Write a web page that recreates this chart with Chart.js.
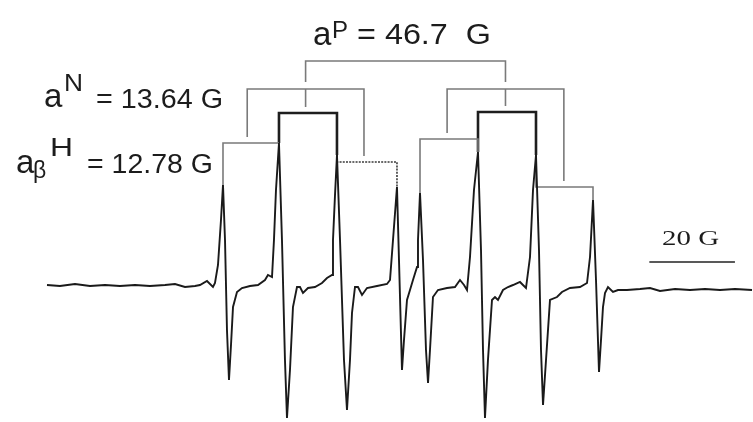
<!DOCTYPE html>
<html>
<head>
<meta charset="utf-8">
<script src="https://cdn.jsdelivr.net/npm/chart.js@4.4.1/dist/chart.umd.min.js"></script>
<style>
  html, body { margin: 0; padding: 0; background: #ffffff; }
  #wrap { position: relative; width: 753px; height: 422px; }
</style>
</head>
<body>
<div id="wrap"><canvas id="c"></canvas></div>
<script>
// ---- data ----
// magnetic field offset (G)
const field = [
  0.47, 3.50, 7.01, 10.51, 14.02, 17.52, 21.03, 24.53, 28.04, 30.37, 32.71, 35.05, 36.21, 37.85, 39.25,
  39.72, 40.42, 41.12, 41.59, 42.06, 42.52, 42.99, 43.46, 43.93, 44.86, 46.03, 47.90, 49.77, 51.40, 52.10, 53.04,
  53.50, 53.97, 54.67, 55.37, 56.07, 56.54, 57.24, 57.94, 58.88, 59.58, 60.28, 61.45, 63.08, 64.72, 65.89, 67.06,
  67.29, 67.76, 68.22, 68.93, 69.86, 70.56, 71.26, 71.73, 72.43, 73.13, 74.07, 75.23, 77.57, 79.91, 80.61,
  81.31, 82.24, 82.71, 83.41, 83.88, 84.58, 85.28, 85.98, 86.92,
  87.15, 87.62, 88.32, 89.02, 89.49, 89.95, 90.65, 91.82, 93.93, 95.79, 96.96, 97.90, 98.60,
  99.30, 100.23, 101.17, 101.87, 102.34, 102.80, 103.50, 104.44, 105.14, 105.84, 107.01, 108.18, 109.35, 110.98, 111.68, 112.38,
  113.32, 114.02, 114.72, 115.42, 115.89, 116.36, 117.06, 117.99, 119.63, 120.79, 122.66, 125.00, 126.64,
  127.34, 128.04, 128.74, 129.44, 129.91, 130.37, 130.84, 131.54, 132.71, 133.88, 135.98, 139.02, 141.36, 143.69,
  147.20, 150.70, 154.21, 157.71, 161.21, 165.19
];
// first-derivative EPR signal (arb. units)
const signal = [
  2, 1, 3, 1, 2, 1, 2, 1, 2, 3, 0, 1, 2, 6, 0,
  4, 22, 67, 102, 47, -43, -93, -58, -20, -5, -1, 1, 2, 7, 12, 10,
  47, 97, 144, 47, -73, -131, -83, -20, 0, 0, -6, -1, 0, 4, 9, 12,
  47, 92, 132, 47, -73, -123, -73, -26, 0, 0, -8, -1, 1, 3, 7,
  47, 100, 27, -83, -53, -13, -3, 7, 20,
  47, 94, 27, -63, -96, -63, -10, -3, -1, 0, 7, 2, -3,
  30, 97, 135, 37, -63, -131, -73, -13, -10, -13, -3, 0, 2, 5, 2, -1,
  30, 97, 132, 37, -63, -118, -73, -13, -10, -5, -1, 0, 4,
  30, 87, 7, -85, -53, -20, -6, 0, -5, -3, -3, -2, -1, -4,
  -2, -3, -2, -3, -2, -3
];

// hyperfine splitting constants (G)
const aP = 46.7;
const aN = 13.64;
const aH = 12.78;
const groupCenter = 84.24;           // centre of the whole spectrum (G)

// stick-diagram levels (signal units)
const levelPTop = 226;
const levelPStem = 205;
const levelN = 198;
const levelH = [144, 174, 125, 148, 175, 100];   // H brackets, left to right
const stemGap = 6;

// scale bar
const scaleBarStart = 141.2;
const scaleBarLength = 20;
const scaleBarLevel = 25;

// ---- build datasets ----
const spectrum = field.map((x, i) => ({ x: x, y: signal[i] }));

// line maxima taken from the spectrum itself
const peaks = [];
for (let i = 1; i < signal.length - 1; i++) {
  if (signal[i] > 60 && signal[i] >= signal[i - 1] && signal[i] >= signal[i + 1]) {
    peaks.push({ x: field[i], y: signal[i] });
  }
}

const THIN = { borderColor: '#7a7a7a', borderWidth: 1.6 };
const BOLD = { borderColor: '#1e1e1e', borderWidth: 2.6 };
const DASH = { borderColor: '#3a3a3a', borderWidth: 1.6, borderDash: [2, 1.2] };

const datasets = [{
  data: spectrum, showLine: true, borderColor: '#1a1a1a', borderWidth: 1.9,
  pointRadius: 0, tension: 0, fill: false
}];

function addPath(pts, style) {
  datasets.push(Object.assign({
    data: pts, showLine: true, pointRadius: 0, tension: 0, fill: false
  }, style));
}

// phosphorus doublet
const p1 = groupCenter - aP / 2, p2 = groupCenter + aP / 2;
addPath([{ x: p1, y: levelPStem }, { x: p1, y: levelPTop }, { x: p2, y: levelPTop }, { x: p2, y: levelPStem }], THIN);

// nitrogen triplets and hydrogen doublets
[p1, p2].forEach((c, g) => {
  const nL = c - aN, nR = c + aN;
  addPath([{ x: nL, y: levelH[3 * g] + stemGap }, { x: nL, y: levelN }, { x: nR, y: levelN }, { x: nR, y: levelH[3 * g + 2] + stemGap }], THIN);
  addPath([{ x: c, y: levelN }, { x: c, y: levelH[3 * g + 1] + stemGap }], THIN);
  for (let k = 0; k < 3; k++) {
    const a = peaks[4 * g + k], b = peaks[4 * g + k + 1];
    const lv = levelH[3 * g + k];
    let style = THIN;
    if (k === 1) style = BOLD;
    if (g === 0 && k === 2) style = DASH;
    addPath([{ x: a.x, y: a.y }, { x: a.x, y: lv }, { x: b.x, y: lv }, { x: b.x, y: b.y }], style);
  }
});

// 20 G scale bar
addPath([{ x: scaleBarStart, y: scaleBarLevel }, { x: scaleBarStart + scaleBarLength, y: scaleBarLevel }],
  { borderColor: '#222', borderWidth: 1.6 });

// ---- text labels ----
function txt(ctx, s, x0, x1, base, size, family) {
  ctx.font = size + 'px ' + family;
  const w = ctx.measureText(s).width;
  const sx = x1 ? (x1 - x0) / w : 1;
  ctx.save();
  ctx.translate(x0, base);
  ctx.scale(sx, 1);
  ctx.fillText(s, 0, 0);
  ctx.restore();
}

const labelPlugin = {
  id: 'labels',
  afterDraw(chart) {
    const ctx = chart.ctx;
    ctx.save();
    ctx.fillStyle = '#1c1c1c';
    ctx.textBaseline = 'alphabetic';
    const SANS = '"Liberation Sans", Arial, sans-serif';
    // aP
    txt(ctx, 'a', 313, null, 45, 33, SANS);
    txt(ctx, 'P', 332, 348, 38, 24, SANS);
    txt(ctx, '= ' + aP.toFixed(1) + '  G', 357, 491, 44, 30, SANS);
    // aN
    txt(ctx, 'a', 44, null, 107, 33, SANS);
    txt(ctx, 'N', 64, 83, 91, 24, SANS);
    txt(ctx, '= ' + aN.toFixed(2) + ' G', 96, 223, 108, 27, SANS);
    // a beta H
    txt(ctx, 'a', 16, null, 173, 33, SANS);
    txt(ctx, 'β', 33, null, 178, 23, SANS);
    txt(ctx, 'H', 50, 73, 156, 25, SANS);
    txt(ctx, '= ' + aH.toFixed(2) + ' G', 87, 213, 173, 27, SANS);
    // scale bar label
    txt(ctx, scaleBarLength + ' G', 662, 719, 245, 22, '"Liberation Serif", "Times New Roman", serif');
    ctx.restore();
  }
};

new Chart(document.getElementById('c'), {
  type: 'scatter',
  data: { datasets: datasets },
  options: {
    responsive: true,
    maintainAspectRatio: false,
    animation: false,
    layout: { padding: 0 },
    plugins: { legend: { display: false }, tooltip: { enabled: false }, title: { display: false } },
    scales: {
      x: { type: 'linear', display: false, min: -10.51, max: 165.42 },
      y: { type: 'linear', display: false, min: -135, max: 287 }
    },
    elements: { line: { borderCapStyle: 'butt', borderJoinStyle: 'miter' } }
  },
  plugins: [labelPlugin]
});
</script>
</body>
</html>
